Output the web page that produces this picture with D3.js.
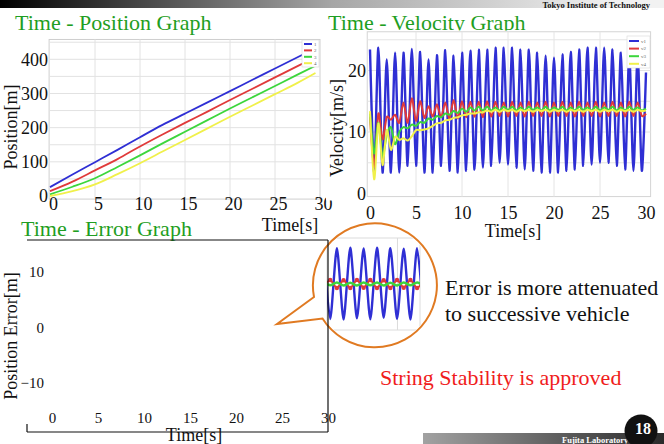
<!DOCTYPE html>
<html>
<head>
<meta charset="utf-8">
<script src="https://cdn.jsdelivr.net/npm/d3@7"></script>
<style>
  body { margin: 0; background: #fff; }
  svg { display: block; }
  svg text { font-family: "Liberation Serif", "Times New Roman", Times, serif; }
</style>
</head>
<body>
<svg id="slide" width="664" height="444"></svg>
<script>
// ---- data ----
const posTime = [0, 2.5, 5, 7.5, 10, 12.5, 15, 17.5, 20, 22.5, 25, 27.5, 29.5];
const posCar1 = [26, 63, 99, 135, 172, 208, 241, 274, 307, 340, 373, 406, 432];
const posCar2 = [14, 42, 75, 108, 145, 180, 214, 247, 281, 314, 347, 380, 406];
const posCar3 = [5, 27, 52, 85, 119, 154, 188, 222, 256, 289, 322, 355, 381];
const posCar4 = [0, 14, 34, 64, 96, 130, 164, 198, 232, 265, 298, 331, 360];
const posLabels = ["1", "2", "3", "4"];

// velocity sampled every half period (30 s / 66 steps)
const velStep = 30 / 66;
const velCar1 = [23.4, 3.5, 23.7, 3.4, 21.8, 3.4, 22.9, 3.4, 22.9, 4.5,
  23.5, 4.5, 23.0, 3.4, 21.8, 3.4, 22.5, 4.5, 23.3, 3.7,
  22.4, 3.4, 22.9, 3.7, 23.2, 3.9, 23.4, 4.2, 23.4, 4.5,
  23.7, 5.0, 23.7, 4.7, 23.7, 4.2, 23.4, 3.9, 23.4, 3.7,
  22.9, 3.4, 22.4, 3.4, 22.1, 3.4, 22.6, 3.7, 23.0, 3.9,
  23.4, 4.5, 23.7, 4.7, 23.7, 5.0, 23.7, 5.0, 23.4, 4.5,
  22.9, 3.9, 22.5, 3.7, 22.5, 3.7, 19.7];
const velCar2 = [12.5, 4.3, 13.0, 8.8, 12.4, 12.0, 12.8, 11.5, 14.8, 11.5,
  15.5, 11.8, 15.0, 12.3, 14.2, 12.5, 14.5, 12.4, 14.8, 12.2,
  15.2, 12.2, 15.0, 12.4, 14.9, 12.5, 14.9, 12.4, 15.0, 12.5,
  14.9, 12.6, 14.8, 12.5, 14.9, 12.6, 14.8, 12.5, 14.9, 12.6,
  14.8, 12.6, 14.9, 12.5, 14.8, 12.6, 14.9, 12.6, 14.8, 12.5,
  14.9, 12.6, 14.8, 12.6, 14.9, 12.5, 14.8, 12.6, 14.9, 12.6,
  14.8, 12.5, 14.9, 12.6, 14.8, 12.6, 13.0];
const velCar3 = [13.0, 6.5, 11.5, 6.0, 9.5, 10.8, 8.0, 10.0, 10.8, 10.6,
  11.2, 11.0, 11.6, 11.5, 12.2, 12.0, 12.6, 12.4, 13.0, 12.8,
  13.4, 13.1, 13.8, 13.3, 14.0, 13.5, 14.1, 13.5, 14.1, 13.5,
  14.0, 13.5, 14.1, 13.6, 14.1, 13.5, 14.0, 13.5, 14.1, 13.6,
  14.0, 13.5, 14.1, 13.5, 14.0, 13.6, 14.1, 13.5, 14.0, 13.5,
  14.1, 13.6, 14.0, 13.5, 14.1, 13.5, 14.0, 13.6, 14.1, 13.5,
  14.0, 13.5, 14.1, 13.6, 14.0, 13.5, 13.8];
const velCar4 = [13.4, 2.3, 11.4, 4.6, 10.3, 7.1, 9.2, 8.7, 9.0, 8.6,
  9.3, 10.3, 10.3, 10.4, 10.6, 11.0, 11.4, 11.5, 11.9, 12.0,
  12.3, 12.4, 12.7, 12.8, 13.0, 13.0, 13.2, 13.2, 13.5, 13.3,
  13.6, 13.3, 13.6, 13.4, 13.6, 13.3, 13.6, 13.4, 13.6, 13.3,
  13.6, 13.4, 13.6, 13.3, 13.6, 13.4, 13.6, 13.3, 13.6, 13.4,
  13.6, 13.3, 13.6, 13.4, 13.6, 13.3, 13.6, 13.4, 13.6, 13.3,
  13.6, 13.4, 13.6, 13.3, 13.6, 13.4, 13.5];
const velLabels = ["v1", "v2", "v3", "v4"];

// zoomed error snippet inside the speech bubble
const insetTime = [19.76, 20.22, 20.68, 21.14, 21.6, 22.06, 22.52, 22.98,
  23.44, 23.9, 24.36, 24.82, 25.28, 25.74, 26.2, 26.66];
const insetErr1 = [11.5, -11.4, 11.7, -11.6, 11.8, -11.2, 11.6, -11.5,
  11.8, -11.0, 11.7, -11.4, 11.5, -11.6, 11.7, -11.3];
const insetErr2 = [-1.2, 1.3, -1.3, 1.2, -1.3, 1.3, -1.2, 1.3,
  -1.3, 1.2, -1.3, 1.3, -1.2, 1.3, -1.3, 1.2];
const insetErr3 = [0.5, -0.4, 0.5, -0.5, 0.4, -0.5, 0.5, -0.4,
  0.5, -0.5, 0.4, -0.5, 0.5, -0.4, 0.5, -0.5];

const timeTicks = [0, 5, 10, 15, 20, 25, 30];
const posTicks = [0, 100, 200, 300, 400];
const velTicks = [0, 10, 20];
const errTicks = [-10, 0, 10];

// ---- drawing ----
const serif = '"Liberation Serif", "Times New Roman", Times, serif';
const titleGreen = "#1f9e22";
const colors = ["#2f2fd4", "#e03a3a", "#3cd63c", "#f0f04a"];
const svg = d3.select("#slide");
const defs = svg.append("defs");

function cleanAxis(g, size) {
  g.select(".domain").remove();
  g.selectAll(".tick line").remove();
  g.attr("font-family", null).attr("font-size", size);
  g.selectAll("text").attr("fill", "#111").style("font-family", serif);
}

// header / footer bars
const topGrad = defs.append("linearGradient").attr("id", "topbar");
topGrad.append("stop").attr("offset", 0).attr("stop-color", "#000");
topGrad.append("stop").attr("offset", 0.5).attr("stop-color", "#a6a6a6");
topGrad.append("stop").attr("offset", 0.93).attr("stop-color", "#f2f2f2");
svg.append("rect").attr("x", 0).attr("y", 0).attr("width", 664).attr("height", 8)
  .attr("fill", "url(#topbar)");
svg.append("text").attr("x", 650).attr("y", 8).attr("text-anchor", "end")
  .attr("font-size", 8.5).attr("font-weight", "bold").attr("fill", "#111")
  .text("Tokyo Institute of Technology");

// ---------- Time - Position ----------
svg.append("text").attr("x", 15).attr("y", 30).attr("font-size", 22)
  .attr("fill", titleGreen).text("Time - Position Graph");

const px = d3.scaleLinear().domain([0, 30]).range([50, 320]);
const py = d3.scaleLinear().domain([0, 400]).range([196, 59.3]);
const pos = svg.append("g");
pos.append("rect").attr("x", px(-0.1)).attr("y", py(458)).attr("width", px(30) - px(-0.1))
  .attr("height", py(-9) - py(458)).attr("fill", "#fff").attr("stroke", "#cfcfcf");
pos.selectAll("line.vg").data([5, 10, 15, 20, 25]).join("line")
  .attr("x1", d => px(d)).attr("x2", d => px(d)).attr("y1", py(458)).attr("y2", py(-9))
  .attr("stroke", "#e2e2e2");
pos.selectAll("line.hg").data(d3.range(50, 451, 50)).join("line")
  .attr("x1", px(-0.1)).attr("x2", px(30)).attr("y1", d => py(d)).attr("y2", d => py(d))
  .attr("stroke", "#e2e2e2");
const posLine = d3.line().x((d, i) => px(posTime[i])).y(d => py(d)).curve(d3.curveMonotoneX);
[posCar1, posCar2, posCar3, posCar4].forEach((s, k) => {
  pos.append("path").datum(s).attr("d", posLine).attr("fill", "none")
    .attr("stroke", colors[k]).attr("stroke-width", 1.8);
});
const posLeg = pos.append("g");
posLeg.append("rect").attr("x", 302).attr("y", 40).attr("width", 17).attr("height", 27)
  .attr("fill", "#fff").attr("stroke", "#d8d8d8").attr("stroke-width", 0.6);
posLabels.forEach((lab, k) => {
  const yy = 44 + k * 6.4;
  posLeg.append("line").attr("x1", 304).attr("x2", 312).attr("y1", yy).attr("y2", yy)
    .attr("stroke", colors[k]).attr("stroke-width", 2);
  posLeg.append("text").attr("x", 314).attr("y", yy + 1.7).attr("font-size", 5)
    .attr("fill", "#666").text(lab);
});
pos.append("g").attr("transform", "translate(48,0)")
  .call(d3.axisLeft(py).tickValues(posTicks).tickSize(0).tickPadding(0))
  .call(g => cleanAxis(g, 18));
pos.append("g").attr("transform", "translate(3,197)")
  .call(d3.axisBottom(px).tickValues(timeTicks).tickSize(0).tickPadding(0))
  .call(g => cleanAxis(g, 18));
pos.append("text").attr("x", 290).attr("y", 231).attr("text-anchor", "middle")
  .attr("font-size", 18).attr("fill", "#111").text("Time[s]");
pos.append("text").attr("transform", "translate(17,127) rotate(-90)")
  .attr("text-anchor", "middle").attr("font-size", 18).attr("fill", "#111").text("Position[m]");

// ---------- Time - Velocity ----------
svg.append("text").attr("x", 328).attr("y", 29.5).attr("font-size", 22)
  .attr("fill", titleGreen).text("Time - Velocity Graph");
svg.append("rect").attr("x", 326).attr("y", 30.5).attr("width", 330).attr("height", 170)
  .attr("fill", "#fff");

const vx = d3.scaleLinear().domain([0, 30]).range([370, 646]);
const vy = d3.scaleLinear().domain([0, 20]).range([193.5, 70.5]);
const vel = svg.append("g");
vel.append("rect").attr("x", vx(-0.3)).attr("y", vy(26.3)).attr("width", vx(30.5) - vx(-0.3))
  .attr("height", vy(-0.5) - vy(26.3)).attr("fill", "#fff").attr("stroke", "#d4d4d4");
vel.selectAll("line.vg").data([5, 10, 15, 20, 25]).join("line")
  .attr("x1", d => vx(d)).attr("x2", d => vx(d)).attr("y1", vy(26.3)).attr("y2", vy(-0.5))
  .attr("stroke", "#e4e4e4");
vel.selectAll("line.hg").data([5, 10, 15, 20, 25]).join("line")
  .attr("x1", vx(-0.3)).attr("x2", vx(30.5)).attr("y1", d => vy(d)).attr("y2", d => vy(d))
  .attr("stroke", "#e4e4e4");
const velLine = d3.line().x((d, i) => vx(i * velStep)).y(d => vy(d)).curve(d3.curveCardinal.tension(0.2));
[velCar1, velCar2, velCar3, velCar4].forEach((s, k) => {
  vel.append("path").datum(s).attr("d", velLine).attr("fill", "none")
    .attr("stroke", colors[k]).attr("stroke-width", k === 0 ? 2.4 : 2);
});
const velLeg = vel.append("g");
velLeg.append("rect").attr("x", 627).attr("y", 36).attr("width", 23).attr("height", 32)
  .attr("fill", "#fff").attr("stroke", "#d8d8d8").attr("stroke-width", 0.6);
velLabels.forEach((lab, k) => {
  const yy = 41 + k * 7.6;
  velLeg.append("line").attr("x1", 629).attr("x2", 639).attr("y1", yy).attr("y2", yy)
    .attr("stroke", colors[k]).attr("stroke-width", 2);
  velLeg.append("text").attr("x", 641).attr("y", yy + 1.7).attr("font-size", 5)
    .attr("fill", "#666").text(lab);
});
vel.append("g").attr("transform", "translate(366,0)")
  .call(d3.axisLeft(vy).tickValues(velTicks).tickSize(0).tickPadding(0))
  .call(g => cleanAxis(g, 18));
vel.append("g").attr("transform", "translate(0,206)")
  .call(d3.axisBottom(vx).tickValues(timeTicks).tickSize(0).tickPadding(0))
  .call(g => cleanAxis(g, 18));
vel.append("text").attr("x", 513).attr("y", 237).attr("text-anchor", "middle")
  .attr("font-size", 18).attr("fill", "#111").text("Time[s]");
vel.append("text").attr("transform", "translate(343,128) rotate(-90)")
  .attr("text-anchor", "middle").attr("font-size", 18).attr("fill", "#111").text("Velocity[m/s]");

// ---------- Time - Error ----------
svg.append("text").attr("x", 21).attr("y", 236).attr("font-size", 22)
  .attr("fill", titleGreen).text("Time - Error Graph");
const ex = d3.scaleLinear().domain([0, 30]).range([52, 328]);
const ey = d3.scaleLinear().domain([-10, 10]).range([383, 272]);
const err = svg.append("g");
err.append("g").attr("transform", "translate(44,0)")
  .call(d3.axisLeft(ey).tickValues(errTicks).tickSize(0).tickPadding(0))
  .call(g => cleanAxis(g, 15));
err.append("g").attr("transform", "translate(0,412)")
  .call(d3.axisBottom(ex).tickValues(timeTicks).tickSize(0).tickPadding(0))
  .call(g => cleanAxis(g, 15));
err.append("text").attr("x", 194).attr("y", 441).attr("text-anchor", "middle")
  .attr("font-size", 18).attr("fill", "#111").text("Time[s]");
err.append("text").attr("transform", "translate(17,336) rotate(-90)")
  .attr("text-anchor", "middle").attr("font-size", 18).attr("fill", "#111").text("Position Error[m]");

// speech bubble with zoomed error traces
const cx = 375, cy = 285.5, r = 62;
const bubble = svg.append("g");
bubble.append("path")
  .attr("d", `M314,297 L277,324 L322.5,318.5 A${r},${r} 0 1 0 314,297 Z`)
  .attr("fill", "#fff").attr("stroke", "#e07a22").attr("stroke-width", 2);
defs.append("clipPath").attr("id", "bubbleClip")
  .append("circle").attr("cx", cx).attr("cy", cy).attr("r", r - 1.5);
const ix = d3.scaleLinear().domain([20, 26.4]).range([327, 420]);
const iy = d3.scaleLinear().domain([-15, 15]).range([330, 238]);
const inset = bubble.append("g").attr("clip-path", "url(#bubbleClip)");
inset.append("rect").attr("x", ix(20)).attr("y", iy(15)).attr("width", ix(26.4) - ix(20))
  .attr("height", iy(-15) - iy(15)).attr("fill", "#fff").attr("stroke", "#dcdcdc");
inset.append("line").attr("x1", ix(24.85)).attr("x2", ix(24.85)).attr("y1", iy(15)).attr("y2", iy(-15))
  .attr("stroke", "#dcdcdc");
const insetClip = defs.append("clipPath").attr("id", "insetRect");
insetClip.append("rect").attr("x", ix(20)).attr("y", iy(15)).attr("width", ix(26.4) - ix(20))
  .attr("height", iy(-15) - iy(15));
const traces = inset.append("g").attr("clip-path", "url(#insetRect)");
const insetLine = d3.line().x((d, i) => ix(insetTime[i])).y(d => iy(d)).curve(d3.curveCardinal.tension(0.3));
traces.append("path").datum(insetErr1).attr("d", insetLine).attr("fill", "none")
  .attr("stroke", colors[0]).attr("stroke-width", 2.4);
traces.append("path").datum(insetErr2).attr("d", insetLine).attr("fill", "none")
  .attr("stroke", colors[1]).attr("stroke-width", 2);
traces.selectAll("circle").data(insetErr2).join("circle")
  .attr("cx", (d, i) => ix(insetTime[i])).attr("cy", d => iy(d)).attr("r", 2.2)
  .attr("fill", colors[1]);
traces.append("path").datum(insetErr3).attr("d", insetLine).attr("fill", "none")
  .attr("stroke", colors[2]).attr("stroke-width", 2.6);

// error frame lines (drawn over the bubble like the slide)
const frame = svg.append("g").attr("stroke", "#111").attr("stroke-width", 1.2);
frame.append("line").attr("x1", 27).attr("x2", 328).attr("y1", 240).attr("y2", 240);
frame.append("line").attr("x1", 328).attr("x2", 328).attr("y1", 240).attr("y2", 432);
frame.append("line").attr("x1", 27).attr("x2", 328).attr("y1", 432).attr("y2", 432);
frame.append("line").attr("x1", 27).attr("x2", 27).attr("y1", 424).attr("y2", 432);

// slide text
svg.append("text").attr("x", 445).attr("y", 295).attr("font-size", 22).attr("fill", "#111")
  .text("Error is more attenuated");
svg.append("text").attr("x", 445).attr("y", 321).attr("font-size", 22).attr("fill", "#111")
  .text("to successive vehicle");
svg.append("text").attr("x", 380).attr("y", 385).attr("font-size", 22).attr("fill", "#f01c1c")
  .text("String Stability is approved");

// footer
const botGrad = defs.append("linearGradient").attr("id", "botbar");
botGrad.append("stop").attr("offset", 0).attr("stop-color", "#a2a2a2");
botGrad.append("stop").attr("offset", 1).attr("stop-color", "#2a2a2a");
svg.append("rect").attr("x", 423).attr("y", 433).attr("width", 241).attr("height", 11)
  .attr("fill", "url(#botbar)");
svg.append("text").attr("x", 562).attr("y", 442.5).attr("font-size", 8.5)
  .attr("font-weight", "bold").attr("fill", "#fff").text("Fujita Laboratory");
svg.append("circle").attr("cx", 641).attr("cy", 431).attr("r", 16.5).attr("fill", "#111");
svg.append("text").attr("x", 643).attr("y", 433.5).attr("text-anchor", "middle")
  .attr("font-size", 16).attr("font-weight", "bold").attr("fill", "#fff").text("18");
</script>
</body>
</html>
